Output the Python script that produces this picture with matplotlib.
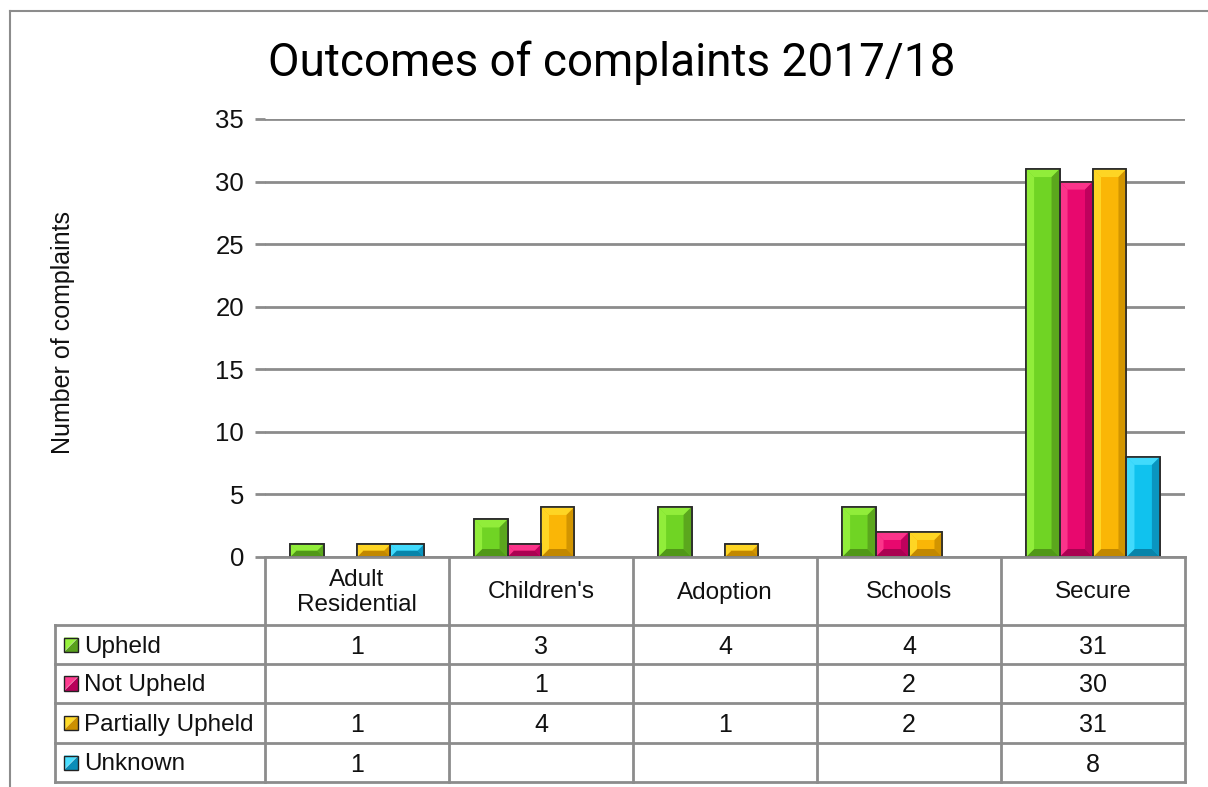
import matplotlib
matplotlib.use("Agg")
import matplotlib.pyplot as plt
import matplotlib.transforms as mtransforms
from matplotlib.patches import Polygon, Rectangle
from matplotlib.lines import Line2D
import numpy as np

# ---------------- data ----------------
title = "Outcomes of complaints 2017/18"
ylabel = "Number of complaints"
categories = ["Adult\nResidential", "Children's", "Adoption", "Schools", "Secure"]
series_names = ["Upheld", "Not Upheld", "Partially Upheld", "Unknown"]
upheld = [1, 3, 4, 4, 31]
not_upheld = [None, 1, None, 2, 30]
partially_upheld = [1, 4, 1, 2, 31]
unknown = [1, None, None, None, 8]
yticks = [0, 5, 10, 15, 20, 25, 30, 35]

series = [upheld, not_upheld, partially_upheld, unknown]

# face, light (top/left), dark (right), darker (bottom)
palettes = [
    ("#70D424", "#97F23E", "#58A01C", "#4C8E16"),
    ("#E8086E", "#FF3C90", "#B8005A", "#A0004C"),
    ("#FAB606", "#FFDB2A", "#CC9000", "#B88000"),
    ("#10C2EE", "#4ADFFF", "#0A8DB8", "#067A9E"),
]

W, H = 1208, 787
fig = plt.figure(figsize=(W / 100, H / 100), dpi=100)
fig.patch.set_facecolor("white")

def fx(px):
    return px / W

def fy(py):
    return 1 - py / H

FS = 17.5
FONT = "Liberation Sans"

AX_L, AX_R, AX_T, AX_B = 265, 1185, 119, 557
ax = fig.add_axes([fx(AX_L), fy(AX_B), fx(AX_R) - fx(AX_L), fy(AX_T) - fy(AX_B)])
ax.set_xlim(0, len(categories))
ax.set_ylim(0, 35)
for s in ax.spines.values():
    s.set_visible(False)
ax.set_xticks([])
ax.set_yticks(yticks)
ax.tick_params(axis="y", length=7, width=2, color="#8c8c8c", pad=15 - 7,
               labelsize=18.5, labelcolor="#111111")
for lab in ax.get_yticklabels():
    lab.set_fontfamily(FONT)
ax.yaxis.grid(True, color="#8c8c8c", linewidth=2)
ax.set_axisbelow(True)

GRAY = "#8c8c8c"

# bars with bevel
n_series = len(series)
gap = 1.5
bw = 1.0 / (n_series + gap)
px_per_x = (AX_R - AX_L) / len(categories)
px_per_y = (AX_B - AX_T) / 35.0
bev_px = 8

for si, vals in enumerate(series):
    face, light, dark, darker = palettes[si]
    xs = np.arange(len(categories)) + 0.5 - n_series * bw / 2 + si * bw + bw / 2
    hs = [v if v is not None else 0 for v in vals]
    bars = ax.bar(xs, hs, width=bw, color=face, edgecolor="#2b2b2b",
                  linewidth=1.2, zorder=3)
    for rect, v in zip(bars, vals):
        if v is None or v == 0:
            rect.set_visible(False)
            continue
        x0 = rect.get_x()
        x1 = x0 + rect.get_width()
        y0 = 0
        y1 = rect.get_height()
        hpx = y1 * px_per_y
        b = min(bev_px, hpx / 2.0)
        dx = b / px_per_x
        dy = b / px_per_y
        ix0, ix1, iy0, iy1 = x0 + dx, x1 - dx, y0 + dy, y1 - dy
        facets = [
            ([(x0, y1), (x1, y1), (ix1, iy1), (ix0, iy1)], light),   # top
            ([(x1, y1), (x1, y0), (ix1, iy0), (ix1, iy1)], dark),    # right
            ([(x0, y0), (x1, y0), (ix1, iy0), (ix0, iy0)], darker),  # bottom
            ([(x0, y0), (x0, y1), (ix0, iy1), (ix0, iy0)], light),   # left
        ]
        for pts, col in facets:
            ax.add_patch(Polygon(pts, closed=True, facecolor=col,
                                 edgecolor="none", zorder=3.5, alpha=0.85))
        ax.add_patch(Rectangle((x0, y0), x1 - x0, y1 - y0, facecolor="none",
                               edgecolor="#2b2b2b", linewidth=1.2, zorder=4))

# y label
fig.text(fx(63), fy(333), ylabel, rotation=90, ha="center", va="center",
         fontsize=18, family=FONT, color="#111111")

# title
fig.text(fx(612), fy(63), title, ha="center", va="center", fontsize=33,
         family=["Roboto", FONT], color="black")

# outer chart border
fig.add_artist(Line2D([fx(10), fx(10)], [fy(11), fy(787)], color="#8c8c8c",
                      linewidth=1.5, transform=fig.transFigure))
fig.add_artist(Line2D([fx(10), fx(1208)], [fy(11), fy(11)], color="#8c8c8c",
                      linewidth=1.5, transform=fig.transFigure))

# data table
bt = mtransforms.blended_transform_factory(ax.transData, fig.transFigure)
row_y = [625, 664, 703, 743, 782]
TAB_L = 55
LW = 2
# x axis line
fig.add_artist(Line2D([fx(AX_L), fx(AX_R)], [fy(AX_B), fy(AX_B)], color=GRAY,
                      linewidth=LW, transform=fig.transFigure))
# horizontal lines
for ry in row_y:
    fig.add_artist(Line2D([fx(TAB_L), fx(AX_R)], [fy(ry), fy(ry)], color=GRAY,
                          linewidth=LW, transform=fig.transFigure))
# vertical lines
for i in range(len(categories) + 1):
    ax.add_artist(Line2D([i, i], [fy(AX_B), fy(row_y[-1])], color=GRAY,
                         linewidth=LW, transform=bt, clip_on=False))
fig.add_artist(Line2D([fx(TAB_L), fx(TAB_L)], [fy(row_y[0]), fy(row_y[-1])],
                      color=GRAY, linewidth=LW, transform=fig.transFigure))

# category labels
for i, c in enumerate(categories):
    ax.text(i + 0.5, fy((AX_B + row_y[0]) / 2 + 1.5), c, transform=bt, ha="center",
            va="center", fontsize=FS, family=FONT, color="#111111",
            linespacing=1.2, clip_on=False)

# rows
for si, (name, vals) in enumerate(zip(series_names, series)):
    face, light, dark, darker = palettes[si]
    yc = (row_y[si] + row_y[si + 1]) / 2
    ty = yc + 2
    # legend key
    kx0, ks = 64, 14
    ky0 = yc + ks / 2
    k = [fx(kx0), fy(ky0), fx(kx0 + ks), fy(ky0 - ks)]
    fig.add_artist(Polygon([(k[0], k[3]), (k[2], k[3]), (k[0], k[1])],
                           closed=True, facecolor=light, edgecolor="none",
                           transform=fig.transFigure))
    fig.add_artist(Polygon([(k[2], k[3]), (k[2], k[1]), (k[0], k[1])],
                           closed=True, facecolor=dark, edgecolor="none",
                           transform=fig.transFigure))
    fig.add_artist(Rectangle((k[0], k[1]), k[2] - k[0], k[3] - k[1],
                             facecolor="none", edgecolor="#222222",
                             linewidth=1, transform=fig.transFigure))
    fig.text(fx(84), fy(ty), name, ha="left", va="center", fontsize=FS,
             family=FONT, color="#111111")
    for i, v in enumerate(vals):
        if v is None:
            continue
        ax.text(i + 0.5, fy(ty), str(v), transform=bt, ha="center",
                va="center", fontsize=FS + 0.5, family=FONT,
                color="#111111", clip_on=False)

fig.savefig("out.png", dpi=100, facecolor="white")
